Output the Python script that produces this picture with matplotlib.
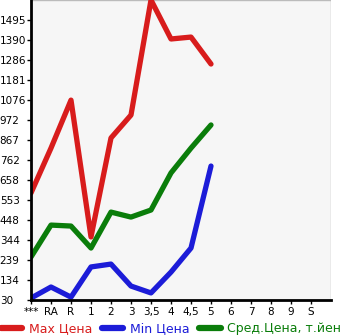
import matplotlib
matplotlib.use("Agg")
import matplotlib.pyplot as plt
from matplotlib.lines import Line2D

categories = ["***", "RA", "R", "1", "2", "3", "3,5", "4", "4,5", "5", "6", "7", "8", "9", "S"]
max_price = [590, 825, 1076, 360, 878, 998, 1600, 1396, 1406, 1265]
min_price = [40, 98, 45, 203, 218, 103, 67, 176, 302, 731]
avg_price = [255, 422, 417, 302, 490, 464, 501, 695, 825, 946]
y_ticks = [30, 134.67, 239.33, 344, 448.67, 553.33, 658, 762.67, 867.33, 972,
           1076.67, 1181.33, 1286, 1390.67, 1495.33]
y_labels = ["30", "134", "239", "344", "448", "553", "658", "762", "867", "972",
            "1076", "1181", "1286", "1390", "1495"]
legend_labels = ["Max Цена", "Min Цена", "Сред.Цена, т.йен"]

red = "#d81c1c"
blue = "#1c1cd8"
green = "#0a7d0a"

fig = plt.figure(figsize=(3.45, 3.35), dpi=100)
ax = fig.add_axes([31/345, 1 - 300/335, 300/345, 300/335])
ax.set_facecolor("#f6f6f6")

x = list(range(len(categories)))
lw = 3.8
ax.plot(x[:len(max_price)], max_price, color=red, lw=lw, solid_capstyle="round")
ax.plot(x[:len(min_price)], min_price, color=blue, lw=lw, solid_capstyle="round")
ax.plot(x[:len(avg_price)], avg_price, color=green, lw=lw, solid_capstyle="round")

ax.set_xlim(0, 15)
ax.set_ylim(30, 1600)
ax.set_xticks(x)
ax.set_xticklabels(categories, fontsize=7.5)
ax.set_yticks(y_ticks)
ax.set_yticklabels(y_labels, fontsize=7.5)
ax.set_xticks(list(range(16)), minor=True)
ax.set_yticks(y_ticks + [1600], minor=True)
ax.grid(True, which="minor", color="#bbbbbb", lw=1)
ax.grid(False, which="major")
ax.tick_params(which="minor", length=0)
ax.tick_params(axis="both", which="major", length=3, width=1, color="black", pad=2)
ax.tick_params(axis="y", pad=19.5)
for t in ax.get_yticklabels():
    t.set_horizontalalignment("left")
for s in ["top", "right"]:
    ax.spines[s].set_visible(False)
ax.spines["left"].set_linewidth(2)
ax.spines["bottom"].set_linewidth(2)

handles = [Line2D([], [], color=c, lw=4.5, solid_capstyle="round") for c in (red, blue, green)]
leg = fig.legend(handles, legend_labels, loc="lower left", bbox_to_anchor=(0.0, -0.005),
                 ncol=3, frameon=False, fontsize=9, handlelength=1.7, handletextpad=0.55,
                 columnspacing=0.75, borderaxespad=0, borderpad=0.1)
for t, c in zip(leg.get_texts(), (red, blue, green)):
    t.set_color(c)

fig.savefig("out.png", dpi=100)
